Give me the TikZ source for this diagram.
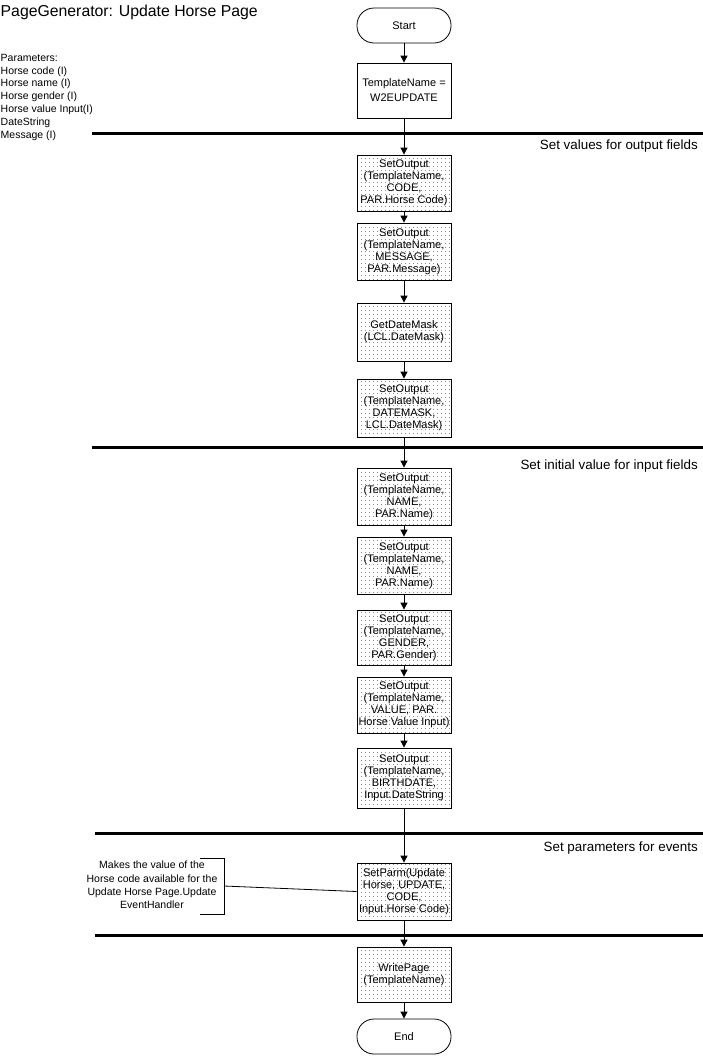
\documentclass[tikz,border=0pt]{standalone}
\usepackage{fontspec}
\setmainfont{Liberation Sans}
\usetikzlibrary{arrows.meta,patterns.meta}
\tikzdeclarepattern{
  name=boxdots,
  type=uncolored,
  bottom left={(0pt,0pt)},
  top right={(3.6pt,3.6pt)},
  tile size={(3.6pt,3.6pt)},
  code={\pgfpathcircle{\pgfqpoint{1.8pt}{1.8pt}}{0.5pt}\pgfusepath{fill}}
}
\begin{document}
\begin{tikzpicture}[x=1pt,y=-1pt,
  proc/.style={draw=black, line width=0.8pt, pattern={boxdots}, pattern color=black!80, minimum width=94pt, inner sep=0pt, align=center, font=\fontsize{11}{12}\selectfont},
  plainbox/.style={draw=black, line width=0.8pt, minimum width=94pt, inner sep=0pt, align=center, font=\fontsize{11}{15}\selectfont},
  term/.style={draw=black, line width=0.8pt, rounded corners=17pt, minimum width=94pt, minimum height=35pt, inner sep=0pt, font=\fontsize{11}{13}\selectfont},
  sepline/.style={line width=3pt},
  flow/.style={line width=0.8pt, -{Triangle[width=7pt,length=7pt]}},
  sect/.style={anchor=base east, font=\fontsize{13.4}{15}\selectfont, inner sep=0pt},
  thin/.style={line width=0.8pt}
]
\useasboundingbox (0,0) rectangle (703,1058);

% title and parameters
\node[anchor=west, inner sep=0pt, font=\fontsize{15.8}{18}\selectfont] (title) at (0.5,12) {PageGenerator: Update Horse Page};
\node[anchor=north west, inner sep=0pt, align=left, font=\fontsize{10.5}{12.8}\selectfont] (params) at (0.5,53.8)
  {Parameters:\\Horse code (I)\\Horse name (I)\\Horse gender (I)\\Horse value Input(I)\\DateString\\Message (I)};

% separators
\coordinate (s1a) at (92,133);  \coordinate (s1b) at (703,133);
\coordinate (s2a) at (92,447);  \coordinate (s2b) at (703,447);
\coordinate (s3a) at (95,833);  \coordinate (s3b) at (703,833);
\coordinate (s4a) at (95,935);  \coordinate (s4b) at (703,935);
\draw[sepline] (s1a) -- (s1b);
\draw[sepline] (s2a) -- (s2b);
\draw[sepline] (s3a) -- (s3b);
\draw[sepline] (s4a) -- (s4b);

\node[sect] (sec1) at (698,149.5) {Set values for output fields};
\node[sect] (sec2) at (698,469.5) {Set initial value for input fields};
\node[sect] (sec3) at (698,851.5) {Set parameters for events};

% nodes
\node[term] (start) at (404,25.5) {Start};
\node[plainbox, minimum height=55pt] (tn) at (404,90.5) {TemplateName =\\W2EUPDATE};
\node[proc, minimum height=56pt] (b1) at (404,183) {SetOutput\\(TemplateName,\\CODE,\\PAR.Horse Code)};
\node[proc, minimum height=57pt] (b2) at (404,251.5) {SetOutput\\(TemplateName,\\MESSAGE,\\PAR.Message)};
\node[proc, minimum height=58pt] (b3) at (404,332) {GetDateMask\\(LCL.DateMask)};
\node[proc, minimum height=58pt] (b4) at (404,408) {SetOutput\\(TemplateName,\\DATEMASK,\\LCL.DateMask)};
\node[proc, minimum height=57pt] (b5) at (404,496.5) {SetOutput\\(TemplateName,\\NAME,\\PAR.Name)};
\node[proc, minimum height=57pt] (b6) at (404,565.5) {SetOutput\\(TemplateName,\\NAME,\\PAR.Name)};
\node[proc, minimum height=55pt] (b7) at (404,637.5) {SetOutput\\(TemplateName,\\GENDER,\\PAR.Gender)};
\node[proc, minimum height=56pt] (b8) at (404,705) {SetOutput\\(TemplateName,\\VALUE, PAR.\\Horse Value Input)};
\node[proc, minimum height=60pt] (b9) at (404,778) {SetOutput\\(TemplateName,\\BIRTHDATE,\\Input.DateString};
\node[proc, minimum height=57pt] (b10) at (404,891.5) {SetParm(Update\\Horse, UPDATE,\\CODE,\\Input.Horse Code)};
\node[proc, minimum height=55pt] (b11) at (404,974.5) {WritePage\\(TemplateName)};
\node[term] (end) at (404,1036.5) {End};

% connectors
\draw[flow] (start) -- (tn);
\draw[flow] (tn) -- (b1);
\draw[flow] (b1) -- (b2);
\draw[flow] (b2) -- (b3);
\draw[flow] (b3) -- (b4);
\draw[flow] (b4) -- (b5);
\draw[flow] (b5) -- (b6);
\draw[flow] (b6) -- (b7);
\draw[flow] (b7) -- (b8);
\draw[flow] (b8) -- (b9);
\draw[flow] (b9) -- (b10);
\draw[flow] (b10) -- (b11);
\draw[flow] (b11) -- (end);

% annotation
\node[inner sep=0pt, align=center, font=\fontsize{10.5}{13.4}\selectfont] (note) at (152,885)
  {Makes the value of the\\Horse code available for the\\Update Horse Page.Update\\EventHandler};
\coordinate (brt) at (200,858);
\coordinate (brtr) at (224,858);
\coordinate (brbr) at (224,914);
\coordinate (brb) at (200,914);
\coordinate (brk) at (224,886);
\draw[thin] (brt) -- (brtr) -- (brbr) -- (brb);
\draw[thin] (brk) -- (b10.west);
\end{tikzpicture}
\end{document}
